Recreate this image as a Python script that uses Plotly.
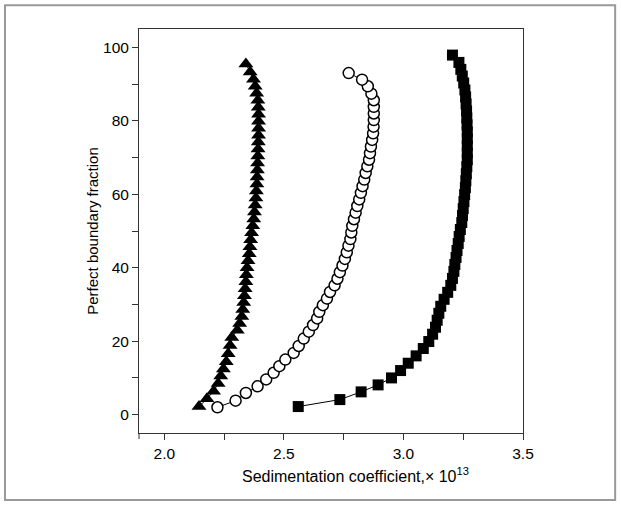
import plotly.graph_objects as go

# filled triangles
tri_y = [2.2, 4.3, 6.4, 8.5, 10.5, 12.4, 14.4, 16.6, 18.8, 21.0, 23.0, 24.8, 26.7, 28.6,
         30.5, 32.4, 34.3, 36.2, 38.1, 40.0, 41.9, 43.8, 45.7, 47.6, 49.5, 51.4, 53.3,
         55.2, 57.1, 59.0, 60.9, 62.8, 64.7, 66.6, 68.5, 70.4, 72.3, 74.2, 76.1, 78.0,
         79.9, 81.8, 83.7, 85.6, 87.5, 89.4, 91.3, 93.3, 95.5]
tri_x = [2.145, 2.178, 2.206, 2.225, 2.236, 2.247, 2.259, 2.267, 2.275, 2.282, 2.305, 2.315,
         2.324, 2.328, 2.332, 2.335, 2.338, 2.341, 2.343, 2.346, 2.350, 2.355, 2.358, 2.361,
         2.365, 2.370, 2.374, 2.377, 2.380, 2.383, 2.385, 2.387, 2.388, 2.389, 2.390, 2.391,
         2.392, 2.393, 2.394, 2.394, 2.394, 2.394, 2.393, 2.391, 2.386, 2.380, 2.373, 2.359,
         2.341]

# open circles
circ_y = [2.0, 3.8, 5.9, 7.7, 9.6, 11.4, 13.2, 15.0, 16.8, 18.7, 20.7, 22.6, 24.4, 26.2,
          28.0, 29.8, 31.6, 33.4, 35.2, 37.0, 38.8, 40.6, 42.4, 44.2, 46.0, 47.8, 49.6,
          51.4, 53.2, 55.0, 56.8, 58.6, 60.4, 62.2, 64.0, 65.8, 67.6, 69.4, 71.2, 73.0,
          74.8, 76.6, 78.4, 80.2, 82.0, 83.8, 85.6, 87.4, 89.4, 91.2, 93.0]
circ_x = [2.222, 2.298, 2.341, 2.390, 2.426, 2.457, 2.481, 2.506, 2.541, 2.562, 2.583, 2.604,
          2.622, 2.639, 2.648, 2.663, 2.680, 2.693, 2.712, 2.724, 2.734, 2.745, 2.755, 2.763,
          2.770, 2.778, 2.782, 2.786, 2.793, 2.800, 2.807, 2.815, 2.822, 2.829, 2.836, 2.842,
          2.849, 2.856, 2.860, 2.864, 2.869, 2.873, 2.875, 2.876, 2.876, 2.876, 2.876, 2.866,
          2.851, 2.827, 2.771]

# filled squares
sq_y = [2.2, 4.1, 6.2, 8.1, 10.0, 12.0, 14.0, 16.0, 18.0, 19.9, 21.9, 23.8, 25.7, 27.6,
        29.5, 31.4, 33.3, 35.2, 37.1, 39.0, 40.9, 42.8, 44.7, 46.6, 48.5, 50.4, 52.3,
        54.2, 56.1, 58.0, 59.9, 61.8, 63.7, 65.6, 67.5, 69.4, 71.3, 73.2, 75.1, 77.0,
        78.9, 80.8, 82.7, 84.6, 86.5, 88.4, 90.3, 92.2, 94.0, 95.9, 97.9]
sq_x = [2.560, 2.734, 2.823, 2.894, 2.950, 2.988, 3.020, 3.053, 3.083, 3.106, 3.122, 3.134,
        3.141, 3.148, 3.156, 3.170, 3.185, 3.198, 3.205, 3.211, 3.215, 3.220, 3.224, 3.229,
        3.233, 3.238, 3.244, 3.247, 3.250, 3.253, 3.256, 3.259, 3.261, 3.263, 3.265, 3.267,
        3.267, 3.267, 3.267, 3.267, 3.266, 3.265, 3.264, 3.262, 3.260, 3.257, 3.252, 3.246,
        3.240, 3.232, 3.205]

fig = go.Figure()
fig.add_trace(go.Scatter(x=tri_x, y=tri_y, mode="lines+markers",
                         line=dict(color="black", width=1),
                         marker=dict(symbol="triangle-up", size=13, color="black")))
fig.add_trace(go.Scatter(x=circ_x, y=circ_y, mode="lines+markers",
                         line=dict(color="black", width=1),
                         marker=dict(symbol="circle", size=11, color="white",
                                     line=dict(color="black", width=1.5))))
fig.add_trace(go.Scatter(x=sq_x, y=sq_y, mode="lines+markers",
                         line=dict(color="black", width=1),
                         marker=dict(symbol="square", size=11, color="black")))

tick_font = dict(family="Liberation Sans, Arial", size=15.5, color="black")
title_font = dict(family="Liberation Sans, Arial", size=15, color="black")

fig.update_xaxes(range=[1.894, 3.5], tickvals=[2.0, 2.5, 3.0, 3.5], tickformat=".1f",
                 ticks="outside", ticklen=6, tickcolor="#333", showgrid=False, zeroline=False,
                 showline=True, linecolor="#333", linewidth=1, mirror=True,
                 minor=dict(tickvals=[2.25, 2.75, 3.25], ticks="outside", ticklen=6, tickcolor="#333"),
                 tickfont=tick_font)
fig.update_yaxes(range=[-5, 105], tickvals=[0, 20, 40, 60, 80, 100],
                 ticks="outside", ticklen=6, tickcolor="#333", showgrid=False, zeroline=False,
                 showline=True, linecolor="#333", linewidth=1, mirror=True,
                 minor=dict(tickvals=[10, 30, 50, 70, 90], ticks="outside", ticklen=6, tickcolor="#333"),
                 tickfont=tick_font,
                 title=dict(text="Perfect boundary fraction", font=title_font, standoff=0))

# x title sits a little right of the plot centre in the original
fig.add_annotation(text="Sedimentation coefficient,× 10<sup>13</sup>",
                   xref="paper", yref="paper", x=0.565, y=-0.104,
                   xanchor="center", yanchor="middle", showarrow=False,
                   font=dict(family="Liberation Sans, Arial", size=16, color="black"))

# outer frame round the figure and the small overshoot of the y axis below the x axis
fig.add_shape(type="rect", xref="paper", yref="paper", x0=-0.349, x1=1.240, y0=-0.166, y1=1.059,
              line=dict(color="#999", width=2), layer="below")
fig.add_shape(type="line", xref="paper", yref="paper", x0=0, x1=0, y0=0, y1=-0.015,
              line=dict(color="#333", width=1))

fig.update_layout(width=621, height=506, showlegend=False,
                  plot_bgcolor="white", paper_bgcolor="white",
                  margin=dict(l=139, r=98, t=29, b=73))

fig.write_html("out.html", config={"displayModeBar": False},
               post_script="document.body.style.margin='0';")
